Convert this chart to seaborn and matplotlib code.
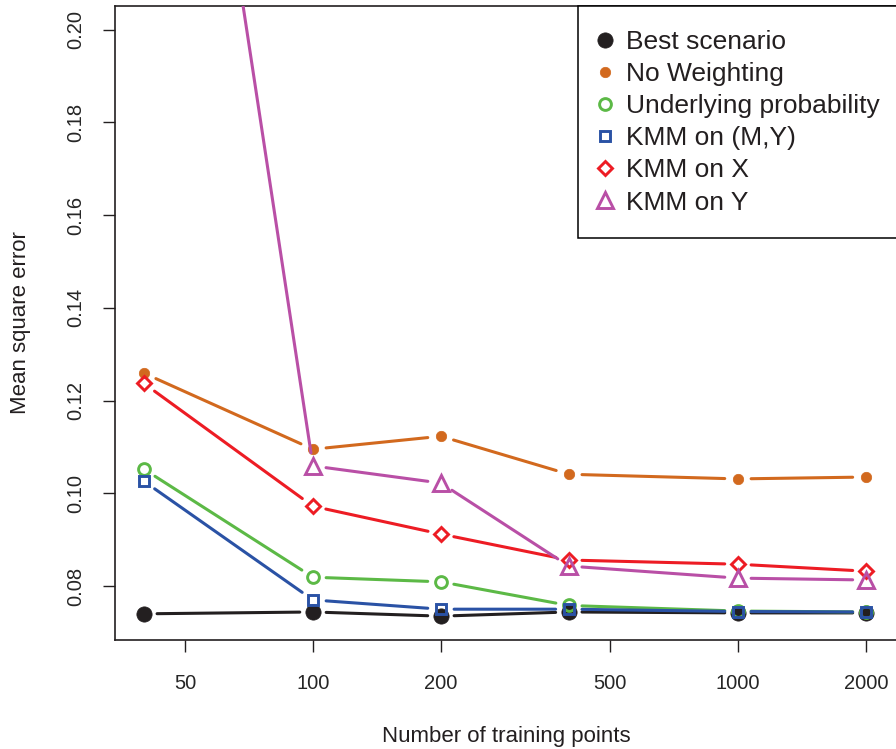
import pandas as pd
import seaborn as sns
import matplotlib.pyplot as plt
from matplotlib.lines import Line2D
from matplotlib.patches import FancyArrowPatch
from matplotlib.ticker import NullLocator

# values
n_train = [40, 100, 200, 400, 1000, 2000]
best = [0.0740, 0.0744, 0.0735, 0.0744, 0.0742, 0.0742]
no_weight = [0.1259, 0.1095, 0.1123, 0.1041, 0.1031, 0.1035]
underlying = [0.1052, 0.0819, 0.0809, 0.0758, 0.0746, 0.0744]
kmm_my = [0.1026, 0.0770, 0.0750, 0.0750, 0.0745, 0.0744]
kmm_x = [0.1237, 0.0972, 0.0912, 0.0856, 0.0847, 0.0832]
kmm_y = [0.346, 0.1059, 0.1022, 0.0843, 0.0817, 0.0813]

labels = ['Best scenario', 'No Weighting', 'Underlying probability',
          'KMM on (M,Y)', 'KMM on X', 'KMM on Y']
series = [best, no_weight, underlying, kmm_my, kmm_x, kmm_y]
colors = ['#231f20', '#d2691e', '#5cb946', '#2a52a5', '#ed1c24', '#b94fa6']
markers = ['o', 'o', 'o', 's', 'D', '^']
sizes = [11, 7.5, 8.5, 7.3, 7, 11]
filled = [True, True, False, False, False, False]

x_ticks = [50, 100, 200, 500, 1000, 2000]
y_ticks = [0.08, 0.10, 0.12, 0.14, 0.16, 0.18, 0.20]

sns.set_style('ticks')
plt.rcParams['font.family'] = ['Liberation Sans', 'DejaVu Sans']

fig = plt.figure(figsize=(8.96, 7.49), dpi=100)
# the original is cropped just before the right border of the box
ax = fig.add_axes([0.1283, 0.1455, 0.8806, 0.8465])
ax.set_xscale('log')

handles = []
for i, (lab, vals, c, m, ms, f) in enumerate(zip(labels, series, colors, markers, sizes, filled)):
    df = pd.DataFrame({'n': n_train, 'mse': vals})
    fc = c if f else 'none'
    mew = 0.5 if f else 2.1
    # R-style type="b": segments stop short of the points
    for j in range(len(n_train) - 1):
        seg = FancyArrowPatch((n_train[j], vals[j]), (n_train[j + 1], vals[j + 1]),
                              arrowstyle='-', shrinkA=9.5, shrinkB=9.5, color=c,
                              lw=2.2, transform=ax.transData, zorder=2 + i)
        ax.add_artist(seg)
    sns.lineplot(data=df, x='n', y='mse', ax=ax, linestyle='none', linewidth=0,
                 marker=m, markersize=ms, markerfacecolor=fc, markeredgecolor=c,
                 markeredgewidth=mew, zorder=2.5 + i)
    handles.append(Line2D([], [], ls='', marker=m, markersize=ms, markerfacecolor=fc,
                          markeredgecolor=c, markeredgewidth=mew, label=lab))

ax.set_xlim(34.2, 2459)
ax.set_ylim(0.06835, 0.2051)
ax.set_xticks(x_ticks)
ax.set_xticklabels([str(t) for t in x_ticks])
ax.xaxis.set_minor_locator(NullLocator())
ax.set_yticks(y_ticks)
ax.set_yticklabels([f'{t:.2f}' for t in y_ticks])
ax.tick_params(length=8.6, width=1, labelsize=14.5, color='#231f20')
ax.tick_params(axis='x', pad=16)
ax.tick_params(axis='y', pad=13, labelrotation=90)
for t in ax.get_yticklabels():
    t.set_va('center')

for sp in ax.spines.values():
    sp.set_color('#231f20')
    sp.set_linewidth(1.2)

ax.set_xlabel('Number of training points', fontsize=16, color='#231f20')
ax.set_ylabel('Mean square error', fontsize=16, color='#231f20')
ax.xaxis.set_label_coords(0.4955, -0.1356)
ax.yaxis.set_label_coords(-0.107, 0.5)

leg = ax.legend(handles=handles, loc='upper right', borderaxespad=0, fontsize=19,
                frameon=True, fancybox=False, edgecolor='black', framealpha=1,
                handlelength=0.3, handletextpad=0.65, labelspacing=0.31, borderpad=0.9)
leg.get_frame().set_linewidth(1.1)
for t in leg.get_texts():
    t.set_color('#231f20')

fig.savefig('out.png', dpi=100)
